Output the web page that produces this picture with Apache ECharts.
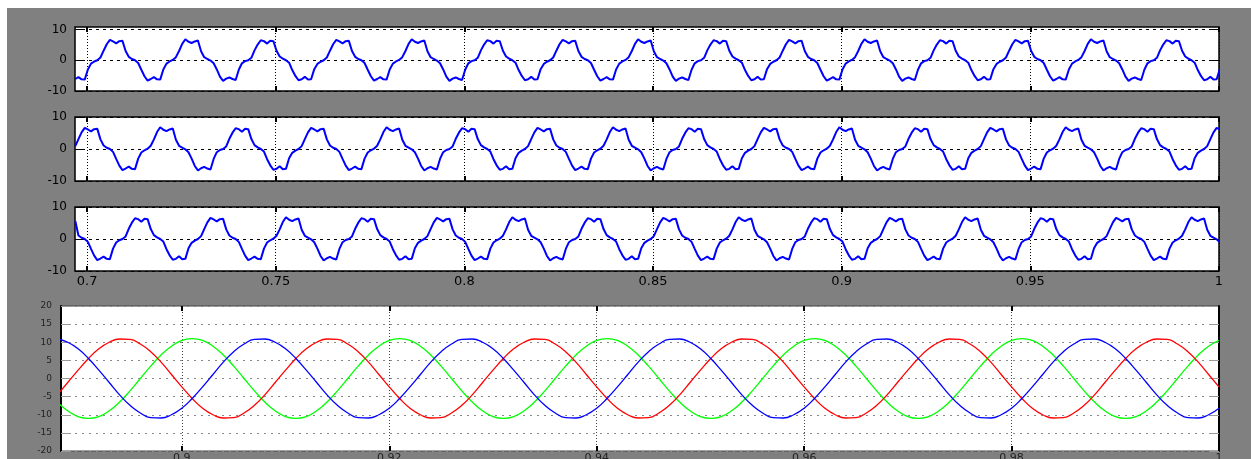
<!DOCTYPE html>
<html><head><meta charset="utf-8">
<script src="https://cdn.jsdelivr.net/npm/echarts@6/dist/echarts.min.js"></script>
<style>
html,body{margin:0;padding:0;background:#fff;}
#wrap{position:relative;width:1251px;height:459px;background:#fff;overflow:hidden;}
#gray{position:absolute;left:7px;top:8px;right:0;bottom:0;background:#808080;}
#c{position:absolute;left:0;top:0;width:1251px;height:459px;}
</style>
</head><body>
<div id="wrap"><div id="gray"></div><div id="c"></div></div>
<script>
// ---- upper three panels: sampled phase signals (start time and sample step) ----
const topStart = 0.69688;
const topStep = 0.02 / 24;
const phaseA = [
-6.1,-5.5,-6.2,-6.3,-3.0,-1.1,-0.4,
0.0,0.9,3.1,5.2,6.6,6.1,5.5,6.2,6.3,3.0,1.1,0.4,0.0,-0.9,-3.1,-5.2,-6.6,-6.1,-5.5,-6.2,-6.3,-3.0,-1.1,-0.4,
0.1,1.0,3.0,5.3,6.8,6.0,5.6,6.1,6.4,2.9,1.0,0.4,-0.1,-1.0,-3.0,-5.3,-6.7,-6.0,-5.6,-6.1,-6.4,-3.1,-1.0,-0.3,
0.0,0.8,3.2,5.1,6.5,6.2,5.4,6.3,6.2,3.1,1.2,0.5,0.0,-0.8,-3.2,-5.1,-6.5,-6.2,-5.4,-6.3,-6.2,-2.9,-1.2,-0.5,
0.0,0.9,3.1,5.2,6.6,6.1,5.5,6.2,6.3,3.0,1.1,0.4,0.0,-0.9,-3.1,-5.2,-6.6,-6.1,-5.5,-6.2,-6.3,-3.0,-1.1,-0.4,
0.1,1.0,3.0,5.3,6.8,6.0,5.6,6.1,6.4,2.9,1.0,0.4,-0.1,-1.0,-3.0,-5.3,-6.7,-6.0,-5.6,-6.1,-6.4,-3.1,-1.0,-0.3,
0.0,0.8,3.2,5.1,6.5,6.2,5.4,6.3,6.2,3.1,1.2,0.5,0.0,-0.8,-3.2,-5.1,-6.5,-6.2,-5.4,-6.3,-6.2,-2.9,-1.2,-0.5,
0.0,0.9,3.1,5.2,6.6,6.1,5.5,6.2,6.3,3.0,1.1,0.4,0.0,-0.9,-3.1,-5.2,-6.6,-6.1,-5.5,-6.2,-6.3,-3.0,-1.1,-0.4,
0.1,1.0,3.0,5.3,6.8,6.0,5.6,6.1,6.4,2.9,1.0,0.4,-0.1,-1.0,-3.0,-5.3,-6.7,-6.0,-5.6,-6.1,-6.4,-3.1,-1.0,-0.3,
0.0,0.8,3.2,5.1,6.5,6.2,5.4,6.3,6.2,3.1,1.2,0.5,0.0,-0.8,-3.2,-5.1,-6.5,-6.2,-5.4,-6.3,-6.2,-2.9,-1.2,-0.5,
0.0,0.9,3.1,5.2,6.6,6.1,5.5,6.2,6.3,3.0,1.1,0.4,0.0,-0.9,-3.1,-5.2,-6.6,-6.1,-5.5,-6.2,-6.3,-3.0,-1.1,-0.4,
0.1,1.0,3.0,5.3,6.8,6.0,5.6,6.1,6.4,2.9,1.0,0.4,-0.1,-1.0,-3.0,-5.3,-6.7,-6.0,-5.6,-6.1,-6.4,-3.1,-1.0,-0.3,
0.0,0.8,3.2,5.1,6.5,6.2,5.4,6.3,6.2,3.1,1.2,0.5,0.0,-0.8,-3.2,-5.1,-6.5,-6.2,-5.4,-6.3,-6.2,-2.9,-1.2,-0.5,
0.0,0.9,3.1,5.2,6.6,6.1,5.5,6.2,6.3,3.0,1.1,0.4,0.0,-0.9,-3.1,-5.2,-6.6,-6.1,-5.5,-6.2,-6.3,-3.0,-1.1,-0.4,
0.1,1.0,3.0,5.3,6.8,6.0,5.6,6.1,6.4,2.9,1.0,0.4,-0.1,-1.0,-3.0,-5.3,-6.7,-6.0,-5.6,-6.1,-6.4,-3.1,-1.0,-0.3,
0.0,0.8,3.2,5.1,6.5,6.2,5.4,6.3,6.2,3.1,1.2,0.5,0.0,-0.8,-3.2,-5.1,-6.5,-6.2,-5.4,-6.3,-6.2,-2.9
];
const phaseB = [
0.9,3.1,5.2,6.6,6.1,5.5,6.2,6.3,3.0,1.1,0.4,0.0,-0.9,-3.1,-5.2,-6.6,-6.1,-5.5,-6.2,-6.3,-3.0,-1.1,-0.4,
0.1,1.0,3.0,5.3,6.8,6.0,5.6,6.1,6.4,2.9,1.0,0.4,-0.1,-1.0,-3.0,-5.3,-6.7,-6.0,-5.6,-6.1,-6.4,-3.1,-1.0,-0.3,
0.0,0.8,3.2,5.1,6.5,6.2,5.4,6.3,6.2,3.1,1.2,0.5,0.0,-0.8,-3.2,-5.1,-6.5,-6.2,-5.4,-6.3,-6.2,-2.9,-1.2,-0.5,
0.0,0.9,3.1,5.2,6.6,6.1,5.5,6.2,6.3,3.0,1.1,0.4,0.0,-0.9,-3.1,-5.2,-6.6,-6.1,-5.5,-6.2,-6.3,-3.0,-1.1,-0.4,
0.1,1.0,3.0,5.3,6.8,6.0,5.6,6.1,6.4,2.9,1.0,0.4,-0.1,-1.0,-3.0,-5.3,-6.7,-6.0,-5.6,-6.1,-6.4,-3.1,-1.0,-0.3,
0.0,0.8,3.2,5.1,6.5,6.2,5.4,6.3,6.2,3.1,1.2,0.5,0.0,-0.8,-3.2,-5.1,-6.5,-6.2,-5.4,-6.3,-6.2,-2.9,-1.2,-0.5,
0.0,0.9,3.1,5.2,6.6,6.1,5.5,6.2,6.3,3.0,1.1,0.4,0.0,-0.9,-3.1,-5.2,-6.6,-6.1,-5.5,-6.2,-6.3,-3.0,-1.1,-0.4,
0.1,1.0,3.0,5.3,6.8,6.0,5.6,6.1,6.4,2.9,1.0,0.4,-0.1,-1.0,-3.0,-5.3,-6.7,-6.0,-5.6,-6.1,-6.4,-3.1,-1.0,-0.3,
0.0,0.8,3.2,5.1,6.5,6.2,5.4,6.3,6.2,3.1,1.2,0.5,0.0,-0.8,-3.2,-5.1,-6.5,-6.2,-5.4,-6.3,-6.2,-2.9,-1.2,-0.5,
0.0,0.9,3.1,5.2,6.6,6.1,5.5,6.2,6.3,3.0,1.1,0.4,0.0,-0.9,-3.1,-5.2,-6.6,-6.1,-5.5,-6.2,-6.3,-3.0,-1.1,-0.4,
0.1,1.0,3.0,5.3,6.8,6.0,5.6,6.1,6.4,2.9,1.0,0.4,-0.1,-1.0,-3.0,-5.3,-6.7,-6.0,-5.6,-6.1,-6.4,-3.1,-1.0,-0.3,
0.0,0.8,3.2,5.1,6.5,6.2,5.4,6.3,6.2,3.1,1.2,0.5,0.0,-0.8,-3.2,-5.1,-6.5,-6.2,-5.4,-6.3,-6.2,-2.9,-1.2,-0.5,
0.0,0.9,3.1,5.2,6.6,6.1,5.5,6.2,6.3,3.0,1.1,0.4,0.0,-0.9,-3.1,-5.2,-6.6,-6.1,-5.5,-6.2,-6.3,-3.0,-1.1,-0.4,
0.1,1.0,3.0,5.3,6.8,6.0,5.6,6.1,6.4,2.9,1.0,0.4,-0.1,-1.0,-3.0,-5.3,-6.7,-6.0,-5.6,-6.1,-6.4,-3.1,-1.0,-0.3,
0.0,0.8,3.2,5.1,6.5,6.2,5.4,6.3,6.2,3.1,1.2,0.5,0.0,-0.8,-3.2,-5.1,-6.5,-6.2,-5.4,-6.3,-6.2,-2.9,-1.2,-0.5,
0.0,0.9,3.1,5.2,6.6,6.1
];
const phaseC = [
5.6,1.1,0.4,0.0,-0.9,-3.1,-5.2,-6.6,-6.1,-5.5,-6.2,-6.3,-3.0,-1.1,-0.4,
0.0,0.8,3.2,5.1,6.5,6.2,5.4,6.3,6.2,3.1,1.2,0.5,0.0,-0.8,-3.2,-5.1,-6.5,-6.2,-5.4,-6.3,-6.2,-2.9,-1.2,-0.5,
0.0,0.9,3.1,5.2,6.6,6.1,5.5,6.2,6.3,3.0,1.1,0.4,0.0,-0.9,-3.1,-5.2,-6.6,-6.1,-5.5,-6.2,-6.3,-3.0,-1.1,-0.4,
0.1,1.0,3.0,5.3,6.8,6.0,5.6,6.1,6.4,2.9,1.0,0.4,-0.1,-1.0,-3.0,-5.3,-6.7,-6.0,-5.6,-6.1,-6.4,-3.1,-1.0,-0.3,
0.0,0.8,3.2,5.1,6.5,6.2,5.4,6.3,6.2,3.1,1.2,0.5,0.0,-0.8,-3.2,-5.1,-6.5,-6.2,-5.4,-6.3,-6.2,-2.9,-1.2,-0.5,
0.0,0.9,3.1,5.2,6.6,6.1,5.5,6.2,6.3,3.0,1.1,0.4,0.0,-0.9,-3.1,-5.2,-6.6,-6.1,-5.5,-6.2,-6.3,-3.0,-1.1,-0.4,
0.1,1.0,3.0,5.3,6.8,6.0,5.6,6.1,6.4,2.9,1.0,0.4,-0.1,-1.0,-3.0,-5.3,-6.7,-6.0,-5.6,-6.1,-6.4,-3.1,-1.0,-0.3,
0.0,0.8,3.2,5.1,6.5,6.2,5.4,6.3,6.2,3.1,1.2,0.5,0.0,-0.8,-3.2,-5.1,-6.5,-6.2,-5.4,-6.3,-6.2,-2.9,-1.2,-0.5,
0.0,0.9,3.1,5.2,6.6,6.1,5.5,6.2,6.3,3.0,1.1,0.4,0.0,-0.9,-3.1,-5.2,-6.6,-6.1,-5.5,-6.2,-6.3,-3.0,-1.1,-0.4,
0.1,1.0,3.0,5.3,6.8,6.0,5.6,6.1,6.4,2.9,1.0,0.4,-0.1,-1.0,-3.0,-5.3,-6.7,-6.0,-5.6,-6.1,-6.4,-3.1,-1.0,-0.3,
0.0,0.8,3.2,5.1,6.5,6.2,5.4,6.3,6.2,3.1,1.2,0.5,0.0,-0.8,-3.2,-5.1,-6.5,-6.2,-5.4,-6.3,-6.2,-2.9,-1.2,-0.5,
0.0,0.9,3.1,5.2,6.6,6.1,5.5,6.2,6.3,3.0,1.1,0.4,0.0,-0.9,-3.1,-5.2,-6.6,-6.1,-5.5,-6.2,-6.3,-3.0,-1.1,-0.4,
0.1,1.0,3.0,5.3,6.8,6.0,5.6,6.1,6.4,2.9,1.0,0.4,-0.1,-1.0,-3.0,-5.3,-6.7,-6.0,-5.6,-6.1,-6.4,-3.1,-1.0,-0.3,
0.0,0.8,3.2,5.1,6.5,6.2,5.4,6.3,6.2,3.1,1.2,0.5,0.0,-0.8,-3.2,-5.1,-6.5,-6.2,-5.4,-6.3,-6.2,-2.9,-1.2,-0.5,
0.0,0.9,3.1,5.2,6.6,6.1,5.5,6.2,6.3,3.0,1.1,0.4,0.0,-0.9,-3.1,-5.2,-6.6,-6.1,-5.5,-6.2,-6.3,-3.0,-1.1,-0.4,
0.1,1.0,3.0,5.3,6.8,6.0,5.6,6.1,6.4,2.9,1.0,0.4,-0.1,-1.0
];

// ---- lower panel: three-phase reference currents (start time and sample step) ----
const botStart = 0.888;
const botStep = 0.001;
const refBlue = [
10.9,10.0,8.2,5.5,2.3,-1.1,-4.5,-7.4,-9.5,-10.8,-10.9,-10.0,-8.2,-5.5,-2.3,1.1,4.5,7.4,9.5,10.8,
10.9,10.0,8.2,5.5,2.3,-1.1,-4.5,-7.4,-9.5,-10.8,-10.9,-10.0,-8.2,-5.5,-2.3,1.1,4.5,7.4,9.5,10.8,
10.9,10.0,8.2,5.5,2.3,-1.1,-4.5,-7.4,-9.5,-10.8,-10.9,-10.0,-8.2,-5.5,-2.3,1.1,4.5,7.4,9.5,10.8,
10.9,10.0,8.2,5.5,2.3,-1.1,-4.5,-7.4,-9.5,-10.8,-10.9,-10.0,-8.2,-5.5,-2.3,1.1,4.5,7.4,9.5,10.8,
10.9,10.0,8.2,5.5,2.3,-1.1,-4.5,-7.4,-9.5,-10.8,-10.9,-10.0,-8.2,-5.5,-2.3,1.1,4.5,7.4,9.5,10.8,
10.9,10.0,8.2,5.5,2.3,-1.1,-4.5,-7.4,-9.5,-10.8,-10.9,-10.0,-8.2
];
const refRed = [
-4.5,-1.1,2.3,5.5,8.2,10.0,10.9,10.8,9.5,7.4,4.5,1.1,-2.3,-5.5,-8.2,-10.0,-10.9,-10.8,-9.5,-7.4,
-4.5,-1.1,2.3,5.5,8.2,10.0,10.9,10.8,9.5,7.4,4.5,1.1,-2.3,-5.5,-8.2,-10.0,-10.9,-10.8,-9.5,-7.4,
-4.5,-1.1,2.3,5.5,8.2,10.0,10.9,10.8,9.5,7.4,4.5,1.1,-2.3,-5.5,-8.2,-10.0,-10.9,-10.8,-9.5,-7.4,
-4.5,-1.1,2.3,5.5,8.2,10.0,10.9,10.8,9.5,7.4,4.5,1.1,-2.3,-5.5,-8.2,-10.0,-10.9,-10.8,-9.5,-7.4,
-4.5,-1.1,2.3,5.5,8.2,10.0,10.9,10.8,9.5,7.4,4.5,1.1,-2.3,-5.5,-8.2,-10.0,-10.9,-10.8,-9.5,-7.4,
-4.5,-1.1,2.3,5.5,8.2,10.0,10.9,10.8,9.5,7.4,4.5,1.1,-2.3
];
const refGreen = [
-6.5,-8.9,-10.5,-11.0,-10.5,-8.9,-6.5,-3.4,0.0,3.4,6.5,8.9,10.5,11.0,10.5,8.9,6.5,3.4,0.0,-3.4,
-6.5,-8.9,-10.5,-11.0,-10.5,-8.9,-6.5,-3.4,0.0,3.4,6.5,8.9,10.5,11.0,10.5,8.9,6.5,3.4,0.0,-3.4,
-6.5,-8.9,-10.5,-11.0,-10.5,-8.9,-6.5,-3.4,0.0,3.4,6.5,8.9,10.5,11.0,10.5,8.9,6.5,3.4,0.0,-3.4,
-6.5,-8.9,-10.5,-11.0,-10.5,-8.9,-6.5,-3.4,0.0,3.4,6.5,8.9,10.5,11.0,10.5,8.9,6.5,3.4,0.0,-3.4,
-6.5,-8.9,-10.5,-11.0,-10.5,-8.9,-6.5,-3.4,0.0,3.4,6.5,8.9,10.5,11.0,10.5,8.9,6.5,3.4,0.0,-3.4,
-6.5,-8.9,-10.5,-11.0,-10.5,-8.9,-6.5,-3.4,0.0,3.4,6.5,8.9,10.5
];

// ---- tick values ----
const topXTicks = [0.7, 0.75, 0.8, 0.85, 0.9, 0.95, 1];
const topYTicks = [-10, 0, 10];
const botXTicks = [0.9, 0.92, 0.94, 0.96, 0.98, 1];
const botYTicks = [-20, -15, -10, -5, 0, 5, 10, 15, 20];

const fmt = v => String(Math.round(v * 1000) / 1000);
const pairs = (arr, t0, dt) => arr.map((v, i) => [t0 + i * dt, v]);

const FONT = 'DejaVu Sans';
const grids = [
  {left: 75, top: 27, width: 1144, height: 64},
  {left: 75, top: 117, width: 1144, height: 64},
  {left: 75, top: 207, width: 1144, height: 64},
  {left: 61, top: 306, width: 1158, height: 145}
];
const gridOpts = grids.map((g, i) => Object.assign({
  show: true, backgroundColor: '#fff',
  borderColor: i < 3 ? '#000' : '#444', borderWidth: i < 3 ? 1.5 : 1,
  containLabel: false, outerBoundsMode: 'none'
}, g));

const noLine = {show: false, onZero: false};
const xAxes = [], yAxes = [];
for (let g = 0; g < 3; g++) {
  xAxes.push({
    gridIndex: g, type: 'value', position: 'bottom', min: 0.6968, max: 1.0,
    axisLine: noLine,
    axisTick: {show: true, inside: true, length: 5, customValues: topXTicks, lineStyle: {color: '#000', width: 2}},
    axisLabel: {show: g === 2, customValues: topXTicks, formatter: fmt, color: '#000', fontSize: 13, fontFamily: FONT, margin: 4},
    splitLine: {show: true, lineStyle: {color: '#000', width: 1, type: [1, 2]}}
  });
  xAxes.push({
    gridIndex: g, type: 'value', position: 'top', min: 0.6968, max: 1.0,
    axisLine: noLine,
    axisTick: {show: true, inside: true, length: 5, customValues: topXTicks, lineStyle: {color: '#000', width: 2}},
    axisLabel: {show: false}, splitLine: {show: false}
  });
  const ymax = g === 0 ? 10.8 : 10;
  yAxes.push({
    gridIndex: g, type: 'value', position: 'left', min: -10, max: ymax,
    axisLine: noLine,
    axisTick: {show: true, inside: true, length: 10, customValues: topYTicks, lineStyle: {color: '#000', width: 1}},
    axisLabel: {show: true, customValues: topYTicks, color: '#000', fontSize: 12, fontFamily: FONT, margin: 8},
    splitLine: {show: true, lineStyle: {color: '#000', width: 1, type: [3, 4]}}
  });
  yAxes.push({
    gridIndex: g, type: 'value', position: 'right', min: -10, max: ymax,
    axisLine: noLine,
    axisTick: {show: true, inside: true, length: 10, customValues: topYTicks, lineStyle: {color: '#000', width: 1}},
    axisLabel: {show: false}, splitLine: {show: false}
  });
}
// lower panel axes
xAxes.push({
  gridIndex: 3, type: 'value', position: 'bottom', min: 0.88835, max: 1.0,
  axisLine: noLine,
  axisTick: {show: true, inside: true, length: 5, customValues: botXTicks, lineStyle: {color: '#000', width: 2}},
  axisLabel: {show: true, customValues: botXTicks, formatter: fmt, color: '#222', fontSize: 11, fontFamily: FONT, margin: 2},
  splitLine: {show: true, lineStyle: {color: '#444', width: 1, type: [1, 2]}}
});
xAxes.push({
  gridIndex: 3, type: 'value', position: 'top', min: 0.88835, max: 1.0,
  axisLine: noLine,
  axisTick: {show: true, inside: true, length: 5, customValues: botXTicks, lineStyle: {color: '#000', width: 2}},
  axisLabel: {show: false}, splitLine: {show: false}
});
yAxes.push({
  gridIndex: 3, type: 'value', position: 'left', min: -20, max: 20,
  axisLine: {show: true, onZero: false, lineStyle: {color: '#000', width: 2}},
  axisTick: {show: true, inside: true, length: 10, customValues: botYTicks, lineStyle: {color: '#999', width: 1}},
  axisLabel: {show: true, customValues: botYTicks, color: '#222', fontSize: 9, fontFamily: FONT, margin: 9},
  splitLine: {show: true, lineStyle: {color: '#888', width: 1, type: [2, 5]}}
});
yAxes.push({
  gridIndex: 3, type: 'value', position: 'right', min: -20, max: 20,
  axisLine: {show: true, onZero: false, lineStyle: {color: '#000', width: 2}},
  axisTick: {show: true, inside: true, length: 10, customValues: botYTicks, lineStyle: {color: '#999', width: 1}},
  axisLabel: {show: false}, splitLine: {show: false}
});

const topLine = (data, g) => ({
  type: 'line', xAxisIndex: g * 2, yAxisIndex: g * 2, data: pairs(data, topStart, topStep),
  symbol: 'none', clip: true, lineStyle: {color: '#0000ff', width: 2}, z: 3
});
const botLine = (data, color) => ({
  type: 'line', xAxisIndex: 6, yAxisIndex: 6, data: pairs(data, botStart, botStep),
  symbol: 'none', smooth: true, clip: true, lineStyle: {color: color, width: 1.3}, z: 3
});

const chart = echarts.init(document.getElementById('c'), null, {renderer: 'canvas'});
chart.setOption({
  animation: false,
  backgroundColor: 'transparent',
  grid: gridOpts,
  xAxis: xAxes,
  yAxis: yAxes,
  series: [
    topLine(phaseA, 0), topLine(phaseB, 1), topLine(phaseC, 2),
    botLine(refGreen, '#00ff00'), botLine(refRed, '#ff0000'), botLine(refBlue, '#0000ff')
  ]
});
</script>
</body></html>
